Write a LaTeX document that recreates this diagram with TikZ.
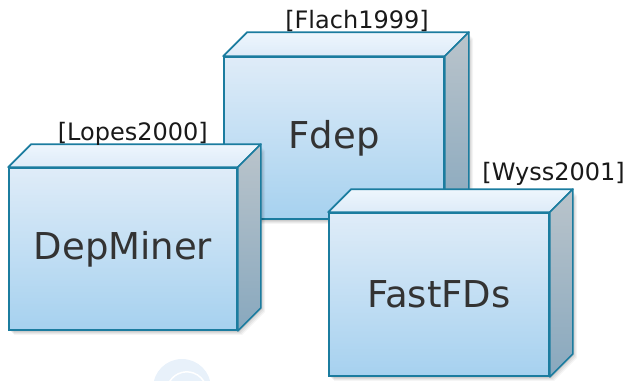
\documentclass[tikz,border=0pt]{standalone}
\usepackage{fontspec}
\setmainfont{DejaVu Sans}
\usetikzlibrary{calc}
\definecolor{edgeblue}{HTML}{1B7C9F}
\definecolor{fronttop}{HTML}{DFECF8}
\definecolor{frontbot}{HTML}{A6D1EF}
\definecolor{toptop}{HTML}{EEF6FD}
\definecolor{topbot}{HTML}{DDEBF8}
\definecolor{sidetop}{HTML}{BAC4CB}
\definecolor{sidebot}{HTML}{88A8BE}
\definecolor{txt}{HTML}{333333}
\definecolor{wm}{HTML}{E8F1FA}
\tikzset{
  front/.style={draw=edgeblue, line width=1.7pt, top color=fronttop, bottom color=frontbot,
    inner sep=0pt, font=\fontsize{37}{40}\selectfont, text=txt},
  topface/.style={draw=edgeblue, line width=1.7pt, line join=round, top color=toptop, bottom color=topbot},
  sideface/.style={draw=edgeblue, line width=1.7pt, line join=round, top color=sidetop, bottom color=sidebot},
  ref/.style={font=\fontsize{24}{28}\selectfont, text=black!90, inner sep=0pt}
}
\newcommand\boxshadow[5]{% x y w h d
  \foreach \s/\o in {5/0.04,4/0.05,3/0.06,2/0.07}{
    \fill[black, opacity=\o] (#1+\s,#2+\s) rectangle ++(#3,#4);
    \fill[black, opacity=\o] (#1+#3+\s,#2+\s) -- ++(#5,-#5) -- ++(0,#4) -- ++(-#5,#5) -- cycle;
  }}
\newcommand\boxfaces[2]{% node name, depth
  \draw[topface] (#1.north west) -- ++(#2,-#2) -- ($(#1.north east)+(#2,-#2)$) -- (#1.north east) -- cycle;
  \draw[sideface] (#1.north east) -- ++(#2,-#2) -- ($(#1.south east)+(#2,-#2)$) -- (#1.south east) -- cycle;}
\begin{document}
\begin{tikzpicture}[x=1pt,y=-1pt]
\useasboundingbox (0,0) rectangle (628,380);
% watermark
\fill[wm] (182,388) circle (29);
\draw[white, line width=1.5pt] (168,385) arc (200:340:20);
% Fdep
\boxshadow{224}{57}{220}{162}{24}
\node[front, minimum width=220pt, minimum height=162pt] (fdep) at (334,138) {Fdep};
\boxfaces{fdep}{24}
\node[ref, anchor=base] (lfdep) at (357,28) {[Flach1999]};
% DepMiner
\boxshadow{9}{168}{228}{162}{23}
\node[front, minimum width=228pt, minimum height=162pt] (dep) at (123,249) {DepMiner};
\boxfaces{dep}{23}
\node[ref, anchor=base east] (ldep) at (208,140) {[Lopes2000]};
% FastFDs
\boxshadow{329}{213}{220}{163}{23}
\node[front, minimum width=220pt, minimum height=163pt] (ffd) at (439,294.5) {FastFDs};
\boxfaces{ffd}{23}
\node[ref, anchor=base east] (lffd) at (625,180) {[Wyss2001]};
\end{tikzpicture}
\end{document}
